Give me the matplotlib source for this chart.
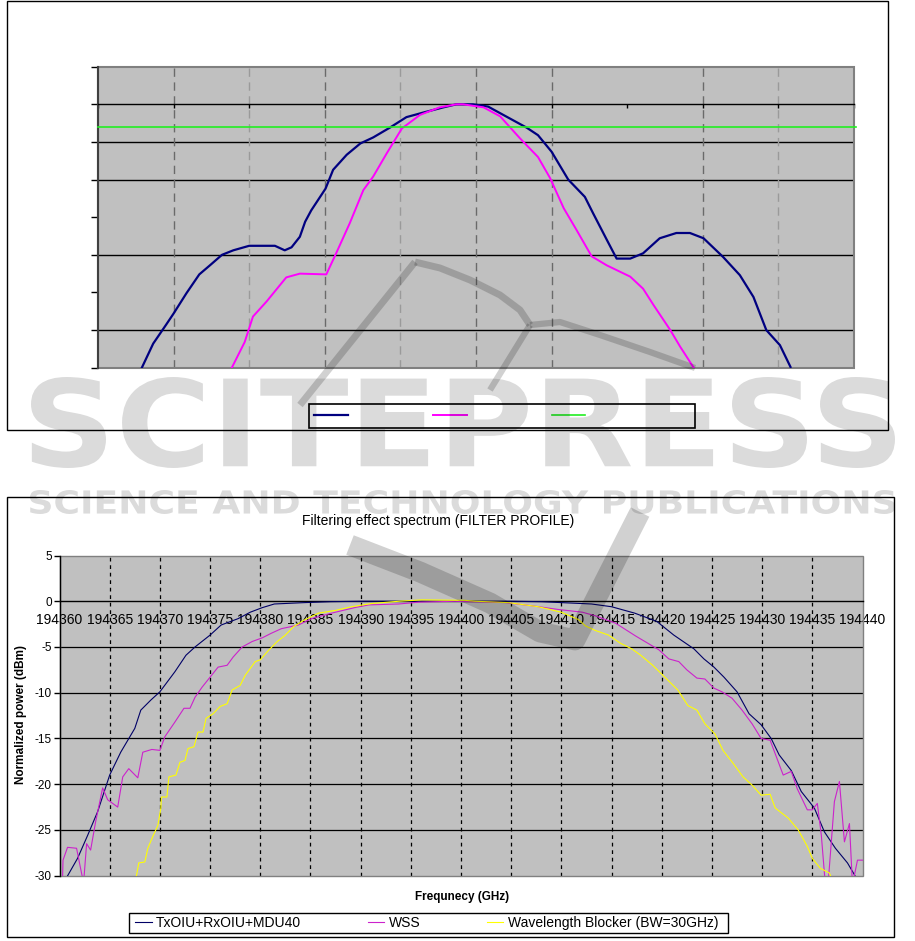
import numpy as np
import matplotlib
matplotlib.use('Agg')
import matplotlib.pyplot as plt
from matplotlib.textpath import TextPath
from matplotlib.patches import PathPatch, Rectangle
from matplotlib.font_manager import FontProperties
from matplotlib.path import Path

plt.rcParams['font.family'] = ['Liberation Sans', 'DejaVu Sans']

W, H = 915, 941

# ---- top chart (labels blank in the source) ----
top_x_ticks = np.arange(-50, 51, 10)
top_y_ticks = np.arange(5, -36, -5)
top_hgrid = [-5, -10, -20, -30]
top_vgrid_dark = [-40, -20, 0, 10, 30]
top_vgrid_light = [-30, -10, 40]

top_navy_x = [-44.2, -42.7, -41.0, -40.0, -38.3, -36.6, -35.2, -33.6, -32.1, -30.0, -26.6, -25.3,
              -24.4, -23.3, -22.6, -21.8, -19.9, -18.9, -17.1, -15.3, -13.6, -11.4, -9.2, -7.0,
              -4.3, -2.6, -0.4, 1.6, 3.6, 6.7, 8.2, 10.0, 12.2, 14.4, 15.5, 17.3, 18.6, 20.4,
              22.1, 24.3, 26.5, 28.3, 30.1, 32.7, 34.9, 36.7, 38.4, 40.2, 41.6]
top_navy_y = [-35, -31.8, -29.3, -27.8, -25.1, -22.6, -21.4, -20.0, -19.4, -18.8, -18.8, -19.4,
              -19.0, -17.6, -15.6, -14.1, -11.2, -8.7, -6.7, -5.2, -4.4, -3.1, -1.7, -1.1,
              -0.4, 0, 0, -0.3, -1.4, -3.1, -4.1, -6.3, -10.0, -12.3, -14.5, -18.0, -20.5, -20.5,
              -19.8, -17.8, -17.1, -17.1, -17.8, -20.3, -22.7, -25.6, -30.0, -32.0, -34.9]

top_mag_x = [-32.3, -30.6, -29.5, -27.7, -25.1, -23.3, -19.8, -18.5, -16.7, -14.9, -13.6, -11.8,
             -9.8, -7.4, -4.8, -2.6, -1.7, 1.0, 3.2, 5.8, 8.2, 9.8, 11.6, 13.3, 15.3, 17.3,
             20.4, 22.1, 23.5, 25.7, 27.0, 28.8]
top_mag_y = [-35, -31.6, -28.2, -26.2, -23.0, -22.5, -22.6, -19.8, -15.8, -11.4, -9.6, -6.5,
             -3.2, -1.4, -0.4, 0, 0, -0.4, -1.6, -4.5, -7.0, -9.8, -13.8, -16.7, -20.2, -21.4,
             -22.9, -24.5, -26.7, -30.0, -32.2, -35]

top_green_x = [-50, 50.3]
top_green_y = [-3, -3]

# ---- bottom chart ----
title = 'Filtering effect spectrum (FILTER PROFILE)'
xlabel = 'Frequnecy (GHz)'
ylabel = 'Normalized power (dBm)'
series_names = ['TxOIU+RxOIU+MDU40', 'WSS', 'Wavelength Blocker (BW=30GHz)']
freq_ticks = np.arange(194360, 194441, 5)
power_ticks = np.arange(5, -31, -5)

txoiu_f = [194360.5, 194361.8, 194362.8, 194363.8, 194365.0, 194366.1, 194367.5, 194368.1, 194369.1,
           194370.0, 194371.5, 194372.6, 194373.5, 194375.0, 194376.1, 194377.8, 194379.0, 194380.2,
           194381.4, 194384.4, 194387.0, 194390.0, 194400.0, 194405.0, 194408.0, 194410.0, 194413.0,
           194415.0, 194417.3, 194419.5, 194421.2, 194423.2, 194424.2, 194425.2, 194426.2, 194427.5,
           194428.7, 194429.9, 194430.9, 194431.7, 194432.9, 194433.9, 194435.2, 194436.2, 194437.3,
           194438.5, 194439.2, 194439.6]
txoiu_p = [-30.6, -28.1, -25.6, -23.0, -19.0, -16.5, -13.9, -11.9, -10.8,
           -9.9, -7.7, -5.9, -5.0, -3.7, -2.6, -1.9, -1.2, -0.7,
           -0.3, -0.15, -0.05, 0.0, 0.0, 0.0, -0.05, -0.15, -0.3,
           -0.6, -1.3, -2.2, -3.7, -5.2, -6.3, -7.2, -8.3, -9.9,
           -12.3, -13.5, -15.0, -16.8, -18.5, -20.8, -22.6, -25.2, -27.0,
           -28.6, -29.9, -30.8]

wss_f = [194360.3, 194360.35, 194360.8, 194361.7, 194362.1, 194362.4, 194362.7, 194363.1, 194363.6,
         194364.3, 194364.8, 194365.8, 194366.3, 194366.9, 194367.8, 194368.3, 194369.2, 194370.0,
         194370.5, 194371.5, 194372.4, 194373.0, 194373.5, 194374.2, 194375.0, 194375.8, 194376.7,
         194377.3, 194378.2, 194379.2, 194380.2, 194381.1, 194382.1, 194383.8, 194385.1, 194387.1,
         194389.4, 194390.8, 194393.8, 194395.8, 194399.4, 194404.4, 194407.1, 194409.7, 194412.1,
         194413.4, 194415.4, 194417.4, 194419.7, 194420.7, 194421.7, 194422.5, 194423.5, 194424.3,
         194425.2, 194426.0, 194427.0, 194428.0, 194429.0, 194429.9, 194430.8, 194432.1, 194432.9,
         194433.5, 194434.5, 194435.0, 194435.5, 194435.9, 194436.3, 194436.6, 194437.2, 194437.7,
         194438.2, 194438.7, 194439.0, 194439.5, 194440.0]
wss_p = [-30.5, -28.3, -26.9, -27.0, -29.2, -30.8, -26.5, -27.2, -24.1,
         -20.4, -21.7, -22.5, -19.2, -18.3, -19.3, -16.5, -16.2, -16.3,
         -14.8, -13.2, -11.7, -11.7, -10.5, -9.4, -8.3, -7.2, -7.0,
         -6.1, -5.0, -4.4, -4.0, -3.5, -3.0, -2.6, -1.9, -1.3,
         -0.7, -0.4, -0.3, -0.1, 0.0, -0.15, -0.5, -0.9, -1.2,
         -1.6, -2.4, -3.8, -5.3, -6.3, -6.6, -7.5, -8.4, -8.5,
         -9.5, -9.9, -10.6, -11.9, -13.4, -15.0, -15.2, -19.0, -18.6,
         -20.5, -22.8, -22.8, -22.1, -25.6, -31.0, -30.5, -21.9, -19.7,
         -26.3, -24.3, -31.0, -28.3, -28.3]

wb_f = [194367.5, 194367.9, 194368.5, 194368.8, 194369.3, 194369.8, 194370.1, 194370.15, 194370.7,
        194370.9, 194371.6, 194372.0, 194372.5, 194372.8, 194373.4, 194373.8, 194374.3, 194374.6,
        194375.3, 194376.0, 194376.7, 194377.2, 194378.0, 194378.5, 194379.5, 194380.0, 194380.8,
        194381.7, 194382.5, 194383.3, 194384.3, 194385.8, 194387.5, 194389.1, 194391.1, 194393.8,
        194396.1, 194400.4, 194401.4, 194404.7, 194407.7, 194410.0, 194411.7, 194412.4, 194413.4,
        194414.7, 194415.9, 194417.0, 194417.9, 194419.1, 194420.4, 194421.6, 194422.6, 194423.5,
        194424.3, 194425.3, 194426.1, 194427.1, 194428.1, 194429.0, 194429.9, 194430.8, 194431.3,
        194432.6, 194433.6, 194434.5, 194435.0, 194435.8, 194436.7, 194437.0]
wb_p = [-31.0, -28.6, -28.5, -27.0, -25.7, -24.5, -22.6, -21.4, -21.4,
        -19.2, -19.0, -17.6, -17.4, -16.1, -15.9, -14.3, -14.3, -12.8,
        -12.3, -11.5, -11.2, -9.7, -9.2, -8.1, -6.6, -6.4, -5.4,
        -4.4, -3.7, -2.8, -2.1, -1.3, -1.0, -0.6, -0.25, 0.0,
        0.15, 0.1, 0.0, -0.15, -0.6, -1.2, -2.0, -2.7, -3.2,
        -3.7, -4.6, -5.2, -5.9, -7.0, -8.4, -9.7, -11.4, -11.9,
        -13.4, -14.5, -16.3, -17.7, -19.2, -20.1, -21.2, -21.1, -22.6,
        -23.7, -25.0, -26.8, -28.1, -29.2, -29.7, -30.5]

fig = plt.figure(figsize=(W / 100, H / 100), dpi=100)


def px_axes(l, t, r, b, **kw):
    return fig.add_axes([l / W, 1 - b / H, (r - l) / W, (b - t) / H], **kw)


# ---------------- top chart ----------------
ax1 = px_axes(98, 66.7, 854, 367.7)
ax1.set_facecolor('#c0c0c0')
ax1.set_xlim(-50, 50)
ax1.set_ylim(-35, 5)
for y in top_hgrid:
    ax1.axhline(y, color='black', lw=1.0, zorder=1)
for x in top_vgrid_dark:
    ax1.axvline(x, color='#6a6a6a', lw=1.0, ls=(0, (6, 4)), zorder=1)
for x in top_vgrid_light:
    ax1.axvline(x, color='#9a9a9a', lw=1.0, ls=(0, (6, 4)), zorder=1)
l1, = ax1.plot(top_navy_x, top_navy_y, color='#000080', lw=1.6, zorder=3)
l2, = ax1.plot(top_mag_x, top_mag_y, color='#ff00ff', lw=1.4, zorder=3)
l3, = ax1.plot(top_green_x, top_green_y, color='#22ee22', lw=1.2, zorder=3, clip_on=False)
ax1.set_xticks(top_x_ticks)
ax1.set_yticks(top_y_ticks)
ax1.set_xticklabels([])
ax1.set_yticklabels([])
ax1.tick_params(axis='x', direction='out', length=3, width=1, color='black')
ax1.tick_params(axis='y', direction='out', length=5, width=1, color='black')
ax1.spines['top'].set_visible(False)
ax1.spines['right'].set_visible(False)
ax1.spines['bottom'].set_position(('data', 0))
ax1.spines['bottom'].set_linewidth(1.0)
ax1.spines['left'].set_color('#404040')
ax1.spines['left'].set_linewidth(1.5)
ax1.add_patch(Rectangle((0, 0), 1, 1, transform=ax1.transAxes, fill=False,
                        ec='#808080', lw=1.5, clip_on=False, zorder=2))
ax1.legend([l1, l2, l3], ['', '', ''], loc='center left', frameon=False,
           bbox_to_anchor=(314 / W, 1 - 416 / H), bbox_transform=fig.transFigure,
           ncol=3, fontsize=9, handlelength=2.7, handletextpad=0, columnspacing=6.8,
           borderpad=0, borderaxespad=0)

# ---------------- bottom chart ----------------
ax2 = px_axes(59.5, 555.5, 862.5, 875.7)
ax2.set_facecolor('#c0c0c0')
ax2.set_xlim(194360, 194440)
ax2.set_ylim(-30, 5)
for y in power_ticks[2:-1]:
    ax2.axhline(y, color='black', lw=0.9, zorder=1)
for x in freq_ticks[1:-1]:
    ax2.axvline(x, color='black', lw=0.9, ls=(0, (3, 3)), zorder=1)
b1, = ax2.plot(txoiu_f, txoiu_p, color='#000066', lw=0.8, zorder=3)
b2, = ax2.plot(wss_f, wss_p, color='#cc22cc', lw=0.8, zorder=3)
b3, = ax2.plot(wb_f, wb_p, color='#ffff00', lw=0.8, zorder=3)
ax2.set_xticks(freq_ticks)
ax2.set_xticklabels([str(v) for v in freq_ticks], fontsize=8.0)
ax2.set_yticks(power_ticks)
ax2.set_yticklabels([str(v) for v in power_ticks], fontsize=8.5)
ax2.tick_params(axis='x', length=0, pad=8.5)
ax2.tick_params(axis='y', direction='out', length=4, width=1, pad=1.5)
ax2.spines['top'].set_visible(False)
ax2.spines['right'].set_visible(False)
ax2.spines['bottom'].set_position(('data', 0))
ax2.spines['bottom'].set_linewidth(1.0)
ax2.spines['left'].set_linewidth(1.0)
ax2.add_patch(Rectangle((0, 0), 1, 1, transform=ax2.transAxes, fill=False,
                        ec='#808080', lw=1.0, clip_on=False, zorder=2))
ax2.legend([b1, b2, b3], series_names, loc='center left', frameon=False,
           bbox_to_anchor=(135 / W, 1 - 923 / H), bbox_transform=fig.transFigure,
           ncol=3, fontsize=10, handlelength=1.2, handletextpad=0.3, columnspacing=4.8,
           borderpad=0, borderaxespad=0)

fig.text(438 / W, 1 - 521 / H, title, ha='center', va='center', fontsize=10)
fig.text(21 / W, 1 - 715 / H, ylabel, ha='center', va='center', rotation=90,
         fontsize=8.5, fontweight='bold')
fig.text(462 / W, 1 - 897 / H, xlabel, ha='center', va='center',
         fontsize=8.5, fontweight='bold')

# ---------------- frames and watermark overlay ----------------
ov = fig.add_axes([0, 0, 1, 1], zorder=10)
ov.set_xlim(0, W)
ov.set_ylim(H, 0)
ov.axis('off')
ov.patch.set_alpha(0)
ov.add_patch(Rectangle((7, 1), 881, 429, fill=False, ec='black', lw=1.0))
ov.add_patch(Rectangle((309.3, 404.3), 386, 24, fill=False, ec='black', lw=1.2))
ov.add_patch(Rectangle((7, 497), 887, 440, fill=False, ec='black', lw=1.0))
ov.add_patch(Rectangle((129.3, 912.7), 599, 20.6, fill=False, ec='black', lw=1.0))

WM_ALPHA = 0.14


def stamp(text, x0, y0, x1, y1):
    tp = TextPath((0, 0), text, size=100, prop=FontProperties(family='DejaVu Sans', weight='bold'))
    ext = tp.get_extents()
    v = tp.vertices.copy()
    v[:, 0] = x0 + (v[:, 0] - ext.x0) / ext.width * (x1 - x0)
    v[:, 1] = y1 - (v[:, 1] - ext.y0) / ext.height * (y1 - y0)
    ov.add_patch(PathPatch(Path(v, tp.codes), fc='black', ec='none', alpha=WM_ALPHA))


stamp('SCITEPRESS', 31, 377, 895, 468)
stamp('SCIENCE AND TECHNOLOGY PUBLICATIONS', 30, 490, 895, 514)

wm = dict(color='black', alpha=WM_ALPHA + 0.04, solid_capstyle='butt', solid_joinstyle='round')
ov.plot([300, 415], [405, 262], lw=5, **wm)
ov.plot([415, 440, 470, 500, 520, 530], [262, 268, 280, 295, 310, 325], lw=5, **wm)
ov.plot([530, 560, 600, 650, 695], [325, 322, 335, 352, 368], lw=4.5, **wm)
ov.plot([530, 490], [325, 390], lw=4.5, **wm)
ov.plot([350, 420, 490, 540, 575, 640], [545, 572, 603, 632, 640, 512], lw=15, **wm)

fig.savefig('out.png', dpi=100)
